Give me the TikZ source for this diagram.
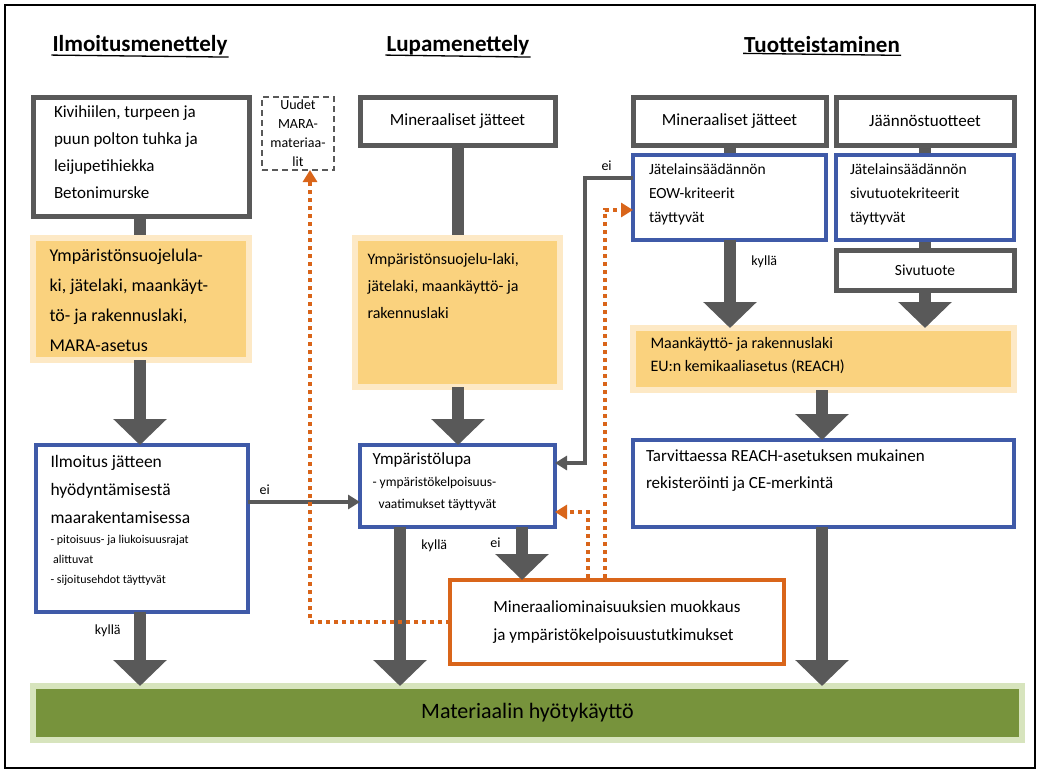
\documentclass[tikz,border=0pt]{standalone}
\usepackage{fontspec}
\setmainfont{Carlito}
\usetikzlibrary{arrows.meta}
\definecolor{dg}{HTML}{595959}
\definecolor{bl}{HTML}{3F5AA8}
\definecolor{orf}{HTML}{FAD27E}
\definecolor{orb}{HTML}{FDE9C6}
\definecolor{ora}{HTML}{D9651A}
\definecolor{grf}{HTML}{77933C}
\definecolor{grb}{HTML}{D7E4BD}
\tikzset{
 box/.style={draw,anchor=north west,inner sep=0pt,outer sep=0pt,font=\fontsize{17}{27}\selectfont},
 gbox/.style={box,draw=dg,line width=5pt,fill=white},
 bbox/.style={box,draw=bl,line width=4pt,fill=white},
 obox/.style={box,draw=orb,line width=6pt,fill=orf},
 big/.style={draw=dg,line width=12pt,-{Triangle[width=52pt,length=26pt]}},
 plain/.style={draw=dg,line width=12pt},
 thin/.style={draw=dg,line width=4pt,-{Triangle[width=14pt,length=12pt]}},
 dots/.style={draw=ora,line width=4pt,dash pattern=on 4pt off 4pt,-{Triangle[width=14pt,length=12pt]}},
 head/.style={font=\fontsize{23}{26}\selectfont\bfseries,inner sep=1pt},
 lab/.style={font=\fontsize{14}{16}\selectfont}
}
\newcommand{\tb}[4]{\parbox[t][#2][t]{#1}{\raggedright\vspace*{#3}#4}}
\begin{document}
\begin{tikzpicture}[x=1pt,y=-1pt]
\useasboundingbox (0,0) rectangle (1040,774);
\draw[line width=1.2pt] (5,5) rectangle (1035,768);
\node[head] (h1) at (140,45) {Ilmoitusmenettely};
\node[head] (h2) at (458,45) {Lupamenettely};
\node[head] (h3) at (822,45) {Tuotteistaminen};
\foreach \h in {h1,h2,h3}{\draw[line width=1.3pt] (\h.south west) ++(0,-1) -- ([yshift=-1pt]\h.south east);}
% connectors drawn first (behind boxes)
\coordinate (a1) at (140,216); \coordinate (a2) at (140,240);
\draw[plain] (a1) -- (a2);
\coordinate (m1) at (458,145); \coordinate (m2) at (458,240);
\draw[plain] (m1) -- (m2);
\coordinate (t1) at (730,145); \coordinate (t2) at (730,157);
\draw[plain] (t1) -- (t2);
\coordinate (s1) at (925,145); \coordinate (s2) at (925,157);
\draw[plain] (s1) -- (s2);
\coordinate (s3) at (925,240); \coordinate (s4) at (925,252);
\draw[plain] (s3) -- (s4);
% boxes
\node[gbox,minimum width=216pt,minimum height=119pt] (k) at (33,97) {\hspace{16pt}\tb{190pt}{110pt}{4pt}{Kivihiilen, turpeen ja\\puun polton tuhka ja\\leijupetihiekka\\Betonimurske}};
\node[box,draw=dg,line width=1.5pt,dash pattern=on 6pt off 4pt,minimum width=72pt,minimum height=73pt,align=center,font=\fontsize{14}{19}\selectfont] (u) at (262,97) {Uudet\\MARA-\\materiaa-\\lit};
\node[gbox,minimum width=195pt,minimum height=48pt] (mj) at (360,97) {Mineraaliset jätteet};
\node[gbox,minimum width=193pt,minimum height=48pt] (mj2) at (633,97) {Mineraaliset jätteet};
\node[gbox,minimum width=178pt,minimum height=48pt] (jt) at (836,97) {Jäännöstuotteet};
\node[bbox,minimum width=193pt,minimum height=85pt,font=\fontsize{15.5}{24}\selectfont] (eow) at (633,155) {\hspace{14pt}\tb{175pt}{78pt}{5pt}{Jätelainsäädännön\\EOW-kriteerit\\täyttyvät}};
\node[bbox,minimum width=178pt,minimum height=85pt,font=\fontsize{15.5}{24}\selectfont] (sk) at (836,155) {\hspace{10pt}\tb{160pt}{78pt}{5pt}{Jätelainsäädännön\\sivutuotekriteerit\\täyttyvät}};
\node[gbox,minimum width=178pt,minimum height=40pt,font=\fontsize{15.5}{18}\selectfont] (st) at (836,250) {Sivutuote};
\node[obox,minimum width=216pt,minimum height=122pt,font=\fontsize{18}{30}\selectfont] (o1) at (33,238) {\hspace{12pt}\tb{195pt}{112pt}{6pt}{Ympäristönsuojelula-\\ki, jätelaki, maankäyt-\\tö- ja rakennuslaki,\\MARA-asetus}};
\node[obox,minimum width=205pt,minimum height=149pt,font=\fontsize{16}{27}\selectfont] (o2) at (355,238) {\hspace{10pt}\tb{190pt}{135pt}{8pt}{Ympäristönsuojelu-laki,\\jätelaki, maankäyttö- ja\\rakennuslaki}};
\node[obox,minimum width=381pt,minimum height=62pt,font=\fontsize{16}{23}\selectfont] (o3) at (633,328) {\hspace{14pt}\tb{360pt}{50pt}{3pt}{Maankäyttö- ja rakennuslaki\\EU:n kemikaaliasetus (REACH)}};
\node[bbox,minimum width=212pt,minimum height=167pt,font=\fontsize{17.5}{28}\selectfont] (il) at (36,445) {\hspace{12pt}\tb{195pt}{155pt}{4pt}{Ilmoitus jätteen\\hyödyntämisestä\\maarakentamisessa\par{\fontsize{12}{20}\selectfont - pitoisuus- ja liukoisuusrajat\\ \ alittuvat\\ - sijoitusehdot täyttyvät\par}}};
\node[bbox,minimum width=195pt,minimum height=82pt] (yl) at (360,445) {\hspace{10pt}\tb{180pt}{75pt}{4pt}{Ympäristölupa\par{\fontsize{13.5}{22}\selectfont - ympäristökelpoisuus-\\ \ \ vaatimukset täyttyvät\par}}};
\node[bbox,minimum width=381pt,minimum height=87pt] (tv) at (633,440) {\hspace{10pt}\tb{365pt}{78pt}{5pt}{Tarvittaessa REACH-asetuksen mukainen\\rekisteröinti ja CE-merkintä}};
\node[box,draw=ora,line width=4pt,fill=white,minimum width=334pt,minimum height=84pt,align=left,font=\fontsize{17}{28}\selectfont] (mm) at (450,580) {Mineraaliominaisuuksien muokkaus\\ja ympäristökelpoisuustutkimukset};
\node[box,draw=grb,line width=6pt,fill=grf,minimum width=989pt,minimum height=54pt,font=\fontsize{22}{24}\selectfont] (g) at (33,686) {Materiaalin hyötykäyttö};
% big arrows
\draw[big] (o1.south -| 140,0) -- (il.north -| 140,0);
\draw[big] (il.south -| 140,0) -- (g.north -| 140,0) node[lab,pos=0.25,left=10pt] {kyllä};
\draw[big] (o2.south -| 458,0) -- (yl.north -| 458,0);
\draw[big] (yl.south -| 400,0) -- (g.north -| 400,0) node[lab,pos=0.12,right=12pt] {kyllä};
\draw[big] (yl.south -| 522,0) -- (mm.north -| 522,0) node[lab,pos=0.3,left=12pt] {ei};
\draw[big] (eow.south -| 730,0) -- (o3.north -| 730,0) node[lab,pos=0.25,right=12pt] {kyllä};
\draw[big] (st.south -| 925,0) -- (o3.north -| 925,0);
\draw[big] (o3.south -| 822,0) -- (tv.north -| 822,0);
\draw[big] (tv.south -| 822,0) -- (g.north -| 822,0);
% thin arrows
\draw[thin] (il.east |- 0,502) -- (yl.west |- 0,502) node[lab,pos=0.15,above=2pt] {ei};
\draw[thin] (eow.west |- 0,178) -- (585,178) node[lab,pos=0.55,above=2pt] {ei} -- (585,463) -- (yl.east |- 0,463);
% dotted
\draw[dots] (mm.west |- 0,622) -- (310,622) -- (u.south -| 310,0);
\draw[dots] (605,578) -- (605,210) -- (eow.west |- 0,210);
\draw[dots] (588,578) -- (588,512) -- (yl.east |- 0,512);
\end{tikzpicture}
\end{document}
